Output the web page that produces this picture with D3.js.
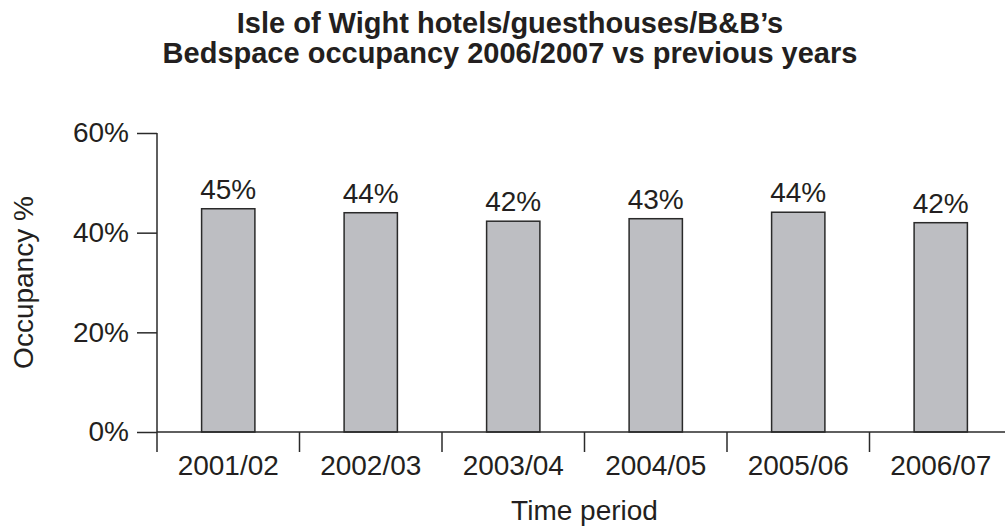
<!DOCTYPE html>
<html>
<head>
<meta charset="utf-8">
<script src="https://cdn.jsdelivr.net/npm/d3@7"></script>
<style>
  body { margin: 0; background: #fff; }
  text { font-family: "Liberation Sans", Arial, sans-serif; fill: #231f20; }
</style>
</head>
<body>
<div id="chart-area"></div>
<script>
var periods = ["2001/02", "2002/03", "2003/04", "2004/05", "2005/06", "2006/07"];
var occupancy = [44.8, 44.0, 42.3, 42.8, 44.1, 42.0];
var yTicks = [0, 20, 40, 60];
var titleLines = ["Isle of Wight hotels/guesthouses/B&B\u2019s", "Bedspace occupancy 2006/2007 vs previous years"];

var margins = { top: 133, right: 0, bottom: 98, left: 157 },
    chartWidth = 6 * 142.5,
    chartHeight = 530 - margins.top - margins.bottom;

var svg = d3.select("#chart-area")
    .append("svg")
    .attr("width", 1005)
    .attr("height", 530)
    .style("display", "block");

var canvas = svg.append("g")
    .attr("transform", `translate(${margins.left},${margins.top})`);

var xScale = d3.scaleBand().domain(periods).range([0, chartWidth])
    .paddingInner(0.626).paddingOuter(0.313);
var yScale = d3.scaleLinear().domain([0, 60]).range([chartHeight, 0]);
var stroke = "#2a2a2a";

// title
svg.append("text")
    .attr("x", 510).attr("y", 33)
    .attr("text-anchor", "middle")
    .attr("font-size", "29px").attr("font-weight", "bold")
    .selectAll("tspan").data(titleLines).enter().append("tspan")
    .attr("x", 510).attr("dy", (d, i) => i === 0 ? 0 : 30)
    .text(d => d);

// bars
canvas.selectAll("rect.bar").data(occupancy).enter().append("rect")
    .attr("class", "bar")
    .attr("x", (d, i) => xScale(periods[i]))
    .attr("y", d => yScale(d))
    .attr("width", xScale.bandwidth())
    .attr("height", d => chartHeight - yScale(d))
    .attr("fill", "#bdbec2")
    .attr("stroke", stroke)
    .attr("stroke-width", 1.5);

canvas.selectAll("text.val").data(occupancy).enter().append("text")
    .attr("class", "val")
    .attr("x", (d, i) => xScale(periods[i]) + xScale.bandwidth() / 2)
    .attr("y", d => yScale(d) - 10)
    .attr("text-anchor", "middle")
    .attr("font-size", "28px")
    .text(d => Math.round(d) + "%");

// y axis
var yAxis = canvas.append("g")
    .call(d3.axisLeft(yScale).tickValues(yTicks).tickSize(20).tickPadding(8).tickFormat(d => d + "%"));
yAxis.select(".domain").remove();
yAxis.selectAll("line").attr("stroke", stroke).attr("stroke-width", 1.5);
yAxis.selectAll("text").attr("font-size", "28px").attr("font-family", "Liberation Sans, Arial, sans-serif").attr("fill", "#231f20");
canvas.append("line")
    .attr("x1", 0).attr("x2", 0).attr("y1", yScale(60)).attr("y2", chartHeight + 20)
    .attr("stroke", stroke).attr("stroke-width", 1.5);

// x axis with boundary ticks
var xAxis = canvas.append("g").attr("transform", `translate(0,${chartHeight})`);
xAxis.append("line")
    .attr("x1", 0).attr("x2", chartWidth).attr("y1", 0).attr("y2", 0)
    .attr("stroke", stroke).attr("stroke-width", 1.5);
xAxis.selectAll("line.bound").data(periods.slice(1)).enter().append("line")
    .attr("class", "bound")
    .attr("x1", d => xScale(d) - xScale.step() * xScale.paddingOuter())
    .attr("x2", d => xScale(d) - xScale.step() * xScale.paddingOuter())
    .attr("y1", 0).attr("y2", 20)
    .attr("stroke", stroke).attr("stroke-width", 1.5);
xAxis.selectAll("text.cat").data(periods).enter().append("text")
    .attr("class", "cat")
    .attr("x", d => xScale(d) + xScale.bandwidth() / 2)
    .attr("y", 43)
    .attr("text-anchor", "middle")
    .attr("font-size", "28px")
    .text(d => d);

// axis titles
canvas.append("text")
    .attr("x", xScale.range()[1] / 2).attr("y", chartHeight + 88)
    .attr("text-anchor", "middle").attr("font-size", "28px")
    .text("Time period");
canvas.append("text")
    .attr("transform", "rotate(-90)")
    .attr("x", -chartHeight / 2).attr("y", -124)
    .attr("text-anchor", "middle").attr("font-size", "28px")
    .text("Occupancy %");
</script>
</body>
</html>
